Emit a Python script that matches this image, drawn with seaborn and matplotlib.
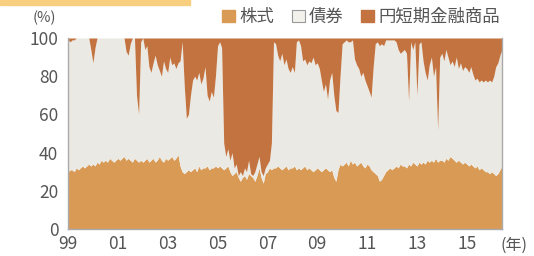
import numpy as np
import pandas as pd
import seaborn as sns
import matplotlib.pyplot as plt
import matplotlib.dates as mdates
from matplotlib.patches import Patch, Rectangle

# monthly shares (%), Jan 1999 - Jun 2016
stock = [
    30, 31, 31, 30, 32, 31, 32, 33, 32, 33, 34, 33,   # 1999
    34, 33, 35, 34, 36, 35, 36, 35, 37, 36, 35, 36,   # 2000
    37, 36, 37, 38, 36, 37, 36, 35, 37, 36, 35, 36,   # 2001
    35, 36, 37, 35, 36, 37, 35, 36, 38, 36, 35, 37,   # 2002
    36, 37, 38, 36, 37, 39, 33, 30, 29, 30, 31, 30,   # 2003
    31, 32, 30, 33, 31, 32, 32, 33, 31, 32, 32, 33,   # 2004
    32, 33, 32, 31, 32, 33, 30, 28, 29, 30, 27, 25,   # 2005
    27, 28, 26, 29, 28, 27, 25, 28, 32, 27, 24, 29,   # 2006
    30, 32, 31, 32, 32, 33, 32, 31, 32, 33, 31, 32,   # 2007
    32, 33, 31, 32, 31, 32, 33, 31, 32, 31, 30, 31,   # 2008
    32, 31, 30, 31, 32, 31, 30, 31, 27, 25, 31, 34,   # 2009
    33, 34, 35, 33, 36, 34, 35, 33, 34, 35, 33, 32,   # 2010
    34, 33, 31, 30, 29, 28, 25, 26, 28, 30, 31, 32,   # 2011
    31, 32, 33, 32, 34, 33, 33, 32, 34, 33, 35, 34,   # 2012
    33, 35, 34, 35, 34, 36, 35, 36, 35, 37, 35, 36,   # 2013
    36, 35, 37, 36, 38, 37, 36, 35, 36, 35, 34, 35,   # 2014
    34, 33, 34, 33, 32, 33, 31, 32, 31, 30, 30, 29,   # 2015
    30, 29, 28, 29, 31, 33,                           # 2016
]
short_term = [
    1, 2, 1, 1, 0, 0, 0, 0, 0, 0, 0, 6,
    13, 5, 0, 0, 0, 0, 0, 0, 0, 0, 0, 0,
    0, 0, 0, 0, 7, 9, 3, 0, 0, 30, 40, 2,
    0, 6, 4, 15, 18, 13, 9, 14, 17, 20, 12, 16,
    18, 10, 14, 13, 16, 13, 12, 2, 25, 42, 40, 30,
    22, 20, 22, 18, 24, 21, 15, 30, 33, 28, 31, 20,
    4, 2, 5, 55, 62, 58, 64, 60, 68, 66, 72, 70,
    72, 68, 70, 64, 71, 72, 70, 66, 62, 70, 72, 68,
    66, 64, 55, 2, 3, 9, 12, 8, 14, 11, 16, 18,
    15, 18, 2, 1, 4, 12, 11, 14, 12, 13, 10, 14,
    13, 16, 22, 28, 24, 32, 22, 18, 30, 38, 39, 20,
    3, 2, 1, 2, 2, 1, 11, 14, 16, 20, 18, 22,
    25, 28, 31, 15, 3, 2, 4, 3, 4, 1, 1, 1,
    1, 1, 2, 6, 8, 7, 6, 8, 33, 2, 6, 2,
    30, 3, 2, 12, 18, 22, 14, 10, 20, 15, 48, 10,
    8, 12, 6, 10, 14, 12, 15, 10, 16, 13, 17, 15,
    16, 18, 15, 19, 22, 21, 23, 22, 23, 22, 23, 22,
    23, 20, 15, 13, 9, 6,
]
labels = ["株式", "債券", "円短期金融商品"]
colors = ["#d99a55", "#eae9e3", "#c3733f"]

stock = np.array(stock, dtype=float)
short_term = np.array(short_term, dtype=float)
bond = 100 - stock - short_term
dates = pd.date_range("1999-01-01", periods=len(stock), freq="MS")
tick_dates = pd.date_range("1999-01-01", "2015-01-01", freq="2YS")

sns.set_style("white")
plt.rcParams["font.family"] = ["Noto Sans CJK JP", "DejaVu Sans"]

fig = plt.figure(figsize=(5.34, 2.56), dpi=100)
ax = fig.add_axes([68 / 534, 1 - 229 / 256, 434 / 534, 191 / 256])

ax.stackplot(dates, stock, bond, short_term, colors=colors, linewidth=0)

ax.set_ylim(0, 100)
ax.set_xlim(dates[0], dates[-1])
ax.set_yticks([0, 20, 40, 60, 80, 100])
ax.set_xticks(tick_dates)
ax.xaxis.set_major_formatter(mdates.DateFormatter("%y"))
ax.tick_params(direction="in", length=3, width=0.8, color="#999999",
               labelsize=12.5, labelcolor="#555555")
ax.tick_params(axis="x", pad=4)
ax.tick_params(axis="y", pad=7)

for side in ["left", "bottom", "right"]:
    ax.spines[side].set_color("#aaaaaa")
    ax.spines[side].set_linewidth(1)
ax.spines["top"].set_visible(False)

fig.text(44 / 534, 1 - 18 / 256, "(%)", ha="center", va="center",
         fontsize=10.5, color="#555555")
fig.text(514 / 534, 1 - 245 / 256, "(年)", ha="center", va="center",
         fontsize=11.5, color="#555555")

handles = [Patch(facecolor=colors[0], edgecolor=colors[0]),
           Patch(facecolor="#f2f1ec", edgecolor="#999999", linewidth=0.8),
           Patch(facecolor=colors[2], edgecolor=colors[2])]
fig.legend(handles, labels, ncol=3, frameon=False, loc="center right",
           bbox_to_anchor=(500 / 534, 1 - 17 / 256), fontsize=12.5,
           handlelength=0.75, handleheight=0.75, handletextpad=0.25,
           columnspacing=1.0, labelcolor="#555555", borderpad=0,
           borderaxespad=0)

# yellow band at top-left of the source page
fig.patches.append(Rectangle((0, 1 - 5 / 256), 190 / 534, 5 / 256,
                             transform=fig.transFigure, color="#f7cf7e",
                             zorder=0))

fig.savefig("out.png", dpi=100)
